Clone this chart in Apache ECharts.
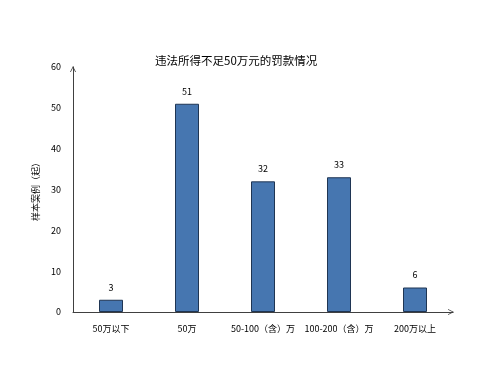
<!DOCTYPE html>
<html><head><meta charset="utf-8">
<script src="https://cdn.jsdelivr.net/npm/echarts@6/dist/echarts.min.js"></script>
<style>html,body{margin:0;padding:0;background:#fff}#c{width:500px;height:370px}</style>
</head><body><div id="c"></div>
<script>
const categories = ['50万以下', '50万', '50-100（含）万', '100-200（含）万', '200万以上'];
const values = [3, 51, 32, 33, 6];
const yTicks = [0, 10, 20, 30, 40, 50, 60];
const FONT = '"Noto Sans CJK SC", "Noto Sans", sans-serif';
const CHEVRON = 'path://M0,10 L5,0 L10,10 L8.6,10 L5,2.8 L1.4,10 Z';
const chart = echarts.init(document.getElementById('c'));
chart.setOption({
  animation: false,
  backgroundColor: '#fff',
  title: {
    text: '违法所得不足50万元的罚款情况',
    left: 150, top: 50,
    textStyle: {fontFamily: FONT, fontSize: 11.5, fontWeight: 'normal', color: '#000'}
  },
  grid: {left: 73, right: 47, top: 67, bottom: 58},
  xAxis: {
    type: 'category', data: categories,
    axisLine: {show: true, lineStyle: {color: '#404040', width: 1}, symbol: ['none', CHEVRON], symbolSize: [7, 6], symbolOffset: [0, -2]},
    axisTick: {show: false},
    axisLabel: {fontFamily: FONT, fontSize: 9, color: '#000', margin: 12, interval: 0}
  },
  yAxis: {
    type: 'value', min: yTicks[0], max: yTicks[yTicks.length - 1], interval: 10,
    name: '样本案例（起）', nameLocation: 'middle', nameGap: 27, nameRotate: 90,
    nameTextStyle: {fontFamily: FONT, fontSize: 9, color: '#000'},
    axisLine: {show: true, lineStyle: {color: '#404040', width: 1}, symbol: ['none', CHEVRON], symbolSize: [7, 6], symbolOffset: [0, -2]},
    axisTick: {show: false},
    splitLine: {show: false},
    axisLabel: {fontFamily: FONT, fontSize: 9, color: '#000', margin: 12}
  },
  series: [{
    type: 'bar', data: values, barWidth: 24,
    itemStyle: {color: '#4676b0', borderColor: '#1f3553', borderWidth: 1},
    label: {show: true, position: 'top', distance: 8, fontFamily: FONT, fontSize: 9, color: '#000'}
  }]
});
</script></body></html>
